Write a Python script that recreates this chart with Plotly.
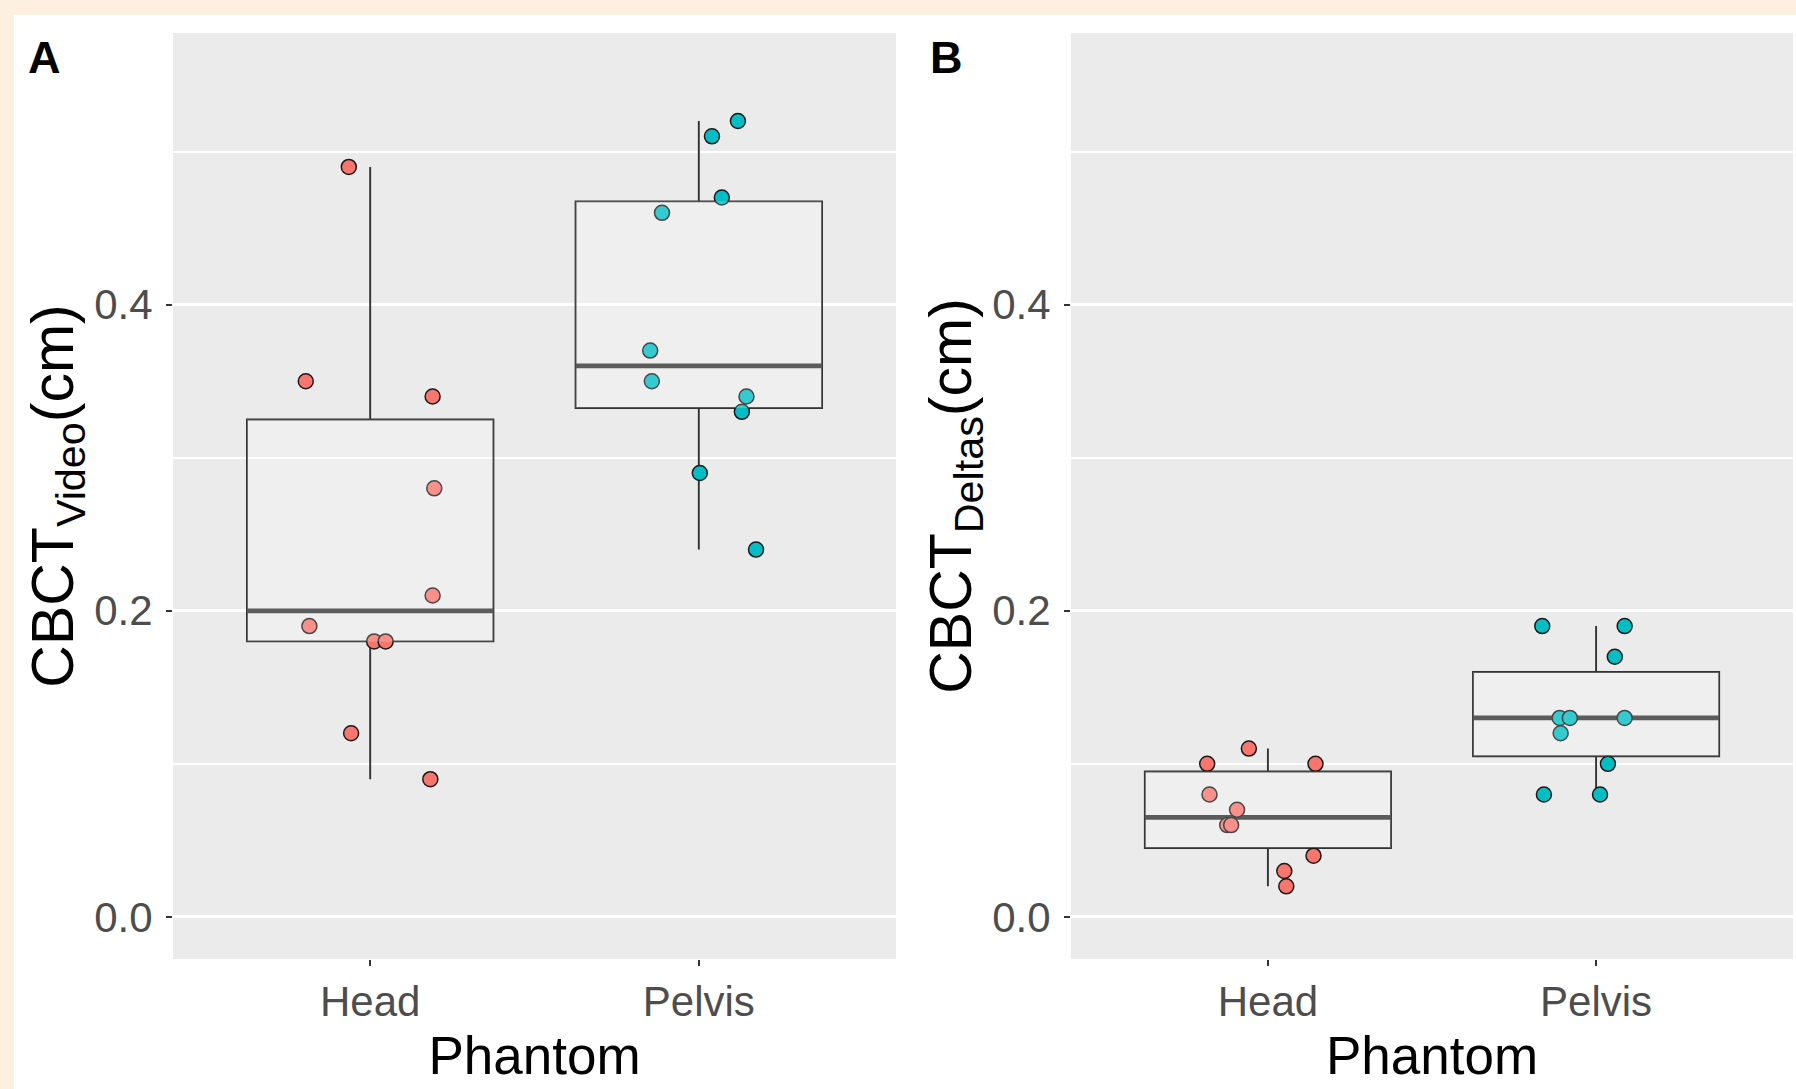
import numpy as np
import plotly.graph_objects as go

# ---------------- data ----------------
categories = ["Head", "Pelvis"]
cat_pos = [1, 2]

video_head = [0.49, 0.35, 0.34, 0.28, 0.21, 0.19, 0.18, 0.18, 0.12, 0.09]
video_head_jitter = [-0.065, -0.196, 0.190, 0.195, 0.190, -0.185, 0.012, 0.047, -0.058, 0.183]
video_pelvis = [0.52, 0.51, 0.47, 0.46, 0.37, 0.35, 0.34, 0.33, 0.29, 0.24]
video_pelvis_jitter = [0.119, 0.040, 0.070, -0.112, -0.148, -0.143, 0.145, 0.131, 0.003, 0.174]

deltas_head = [0.11, 0.10, 0.10, 0.08, 0.07, 0.06, 0.06, 0.04, 0.03, 0.02]
deltas_head_jitter = [-0.058, -0.185, 0.145, -0.178, -0.094, -0.124, -0.112, 0.139, 0.050, 0.056]
deltas_pelvis = [0.19, 0.19, 0.17, 0.13, 0.13, 0.13, 0.12, 0.10, 0.08, 0.08]
deltas_pelvis_jitter = [-0.164, 0.087, 0.057, -0.111, -0.080, 0.087, -0.108, 0.036, -0.159, 0.012]

y_tickvals = [0.0, 0.2, 0.4]
y_ticktext = ["0.0", "0.2", "0.4"]
y_minor = [0.1, 0.3, 0.5]
y_limits = [0.0, 0.55]

colors = ["#F8766D", "#00BFC4"]

# ---------------- styling ----------------
W, H = 1796, 1089
BOX_W = 0.75
LINE_C = "#333333"
TICK_FONT = dict(family="Liberation Sans, Arial, sans-serif", size=42, color="#4D4D4D")
TITLE_FONT = dict(family="Liberation Sans, Arial, sans-serif", size=53, color="black")
LABEL_FONT = dict(family="Liberation Sans, Arial, sans-serif", size=45, color="black")

pad = 0.05 * (y_limits[1] - y_limits[0])
y_range = [y_limits[0] - pad, y_limits[1] + pad]


def stats(v):
    a = np.asarray(v, dtype=float)
    q1, med, q3 = np.percentile(a, [25, 50, 75])
    iqr = q3 - q1
    lo = a[a >= q1 - 1.5 * iqr].min()
    hi = a[a <= q3 + 1.5 * iqr].max()
    return q1, med, q3, lo, hi


fig = go.Figure()
shapes = []

panels = [
    ("x", "y", [(video_head, video_head_jitter), (video_pelvis, video_pelvis_jitter)]),
    ("x2", "y2", [(deltas_head, deltas_head_jitter), (deltas_pelvis, deltas_pelvis_jitter)]),
]

for xa, ya, groups in panels:
    for i, (vals, jit) in enumerate(groups):
        pos = cat_pos[i]
        # jittered points
        fig.add_trace(go.Scatter(
            x=[pos + j for j in jit], y=vals, mode="markers",
            marker=dict(size=15, color=colors[i], line=dict(color="#1a1a1a", width=1.5)),
            xaxis=xa, yaxis=ya, showlegend=False, hoverinfo="skip"))
        q1, med, q3, lo, hi = stats(vals)
        # box outline + whiskers
        fig.add_trace(go.Box(
            x=[pos], q1=[q1], median=[med], q3=[q3], lowerfence=[lo], upperfence=[hi],
            width=BOX_W, whiskerwidth=0, boxpoints=False,
            fillcolor="rgba(0,0,0,0)", line=dict(color=LINE_C, width=1.9),
            xaxis=xa, yaxis=ya, showlegend=False, hoverinfo="skip"))
        # thicker median line
        fig.add_trace(go.Box(
            x=[pos], q1=[med], median=[med], q3=[med], lowerfence=[med], upperfence=[med],
            width=BOX_W, whiskerwidth=0, boxpoints=False,
            fillcolor="rgba(0,0,0,0)", line=dict(color=LINE_C, width=4.8),
            xaxis=xa, yaxis=ya, showlegend=False, hoverinfo="skip"))
        # translucent box fill drawn over the points (as in the original)
        shapes.append(dict(type="rect", xref=xa, yref=ya,
                           x0=pos - BOX_W / 2, x1=pos + BOX_W / 2, y0=q1, y1=q3,
                           fillcolor="rgba(255,255,255,0.2)", line=dict(width=0),
                           layer="above"))

# cream page border (top and left)
shapes.append(dict(type="rect", xref="paper", yref="paper", x0=0, x1=1,
                   y0=1 - 15 / H, y1=1, fillcolor="#FDF0E1", line=dict(width=0), layer="below"))
shapes.append(dict(type="rect", xref="paper", yref="paper", x0=0, x1=14 / W,
                   y0=0, y1=1, fillcolor="#FDF0E1", line=dict(width=0), layer="below"))

xdomA = [173 / W, 896 / W]
xdomB = [1071 / W, 1793 / W]
ydom = [1 - 959 / H, 1 - 33 / H]

common_x = dict(range=[0.4, 2.6], tickvals=cat_pos, ticktext=categories, showgrid=False,
                zeroline=False, ticks="outside", ticklen=6, tickwidth=1.5, tickcolor=LINE_C,
                tickfont=TICK_FONT, ticklabelstandoff=0,
                title=dict(text="Phantom", font=TITLE_FONT, standoff=12))
common_y = dict(range=y_range, tickvals=y_tickvals, ticktext=y_ticktext, showgrid=True,
                gridcolor="white", gridwidth=2.5, zeroline=False, ticks="outside", ticklen=6,
                tickwidth=1.5, tickcolor=LINE_C, tickfont=TICK_FONT, ticklabelstandoff=5,
                minor=dict(tickvals=y_minor, showgrid=True, gridcolor="white", gridwidth=1.6,
                           ticks=""))

fig.update_layout(
    width=W, height=H, margin=dict(l=0, r=0, t=0, b=0),
    paper_bgcolor="white", plot_bgcolor="#EBEBEB", boxmode="overlay",
    xaxis=dict(domain=xdomA, anchor="y", **common_x),
    xaxis2=dict(domain=xdomB, anchor="y2", **common_x),
    yaxis=dict(domain=ydom, anchor="x",
               title=dict(text="CBCT<sub>Video</sub>(cm)", font=dict(TITLE_FONT, size=59), standoff=1),
               **common_y),
    yaxis2=dict(domain=ydom, anchor="x2",
                title=dict(text="CBCT<sub>Deltas</sub>(cm)", font=dict(TITLE_FONT, size=59), standoff=1),
                **common_y),
    shapes=shapes,
    annotations=[
        dict(text="<b>A</b>", xref="paper", yref="paper", x=26 / W, y=1 - 30 / H,
             xanchor="left", yanchor="top", showarrow=False, font=LABEL_FONT),
        dict(text="<b>B</b>", xref="paper", yref="paper", x=928 / W, y=1 - 30 / H,
             xanchor="left", yanchor="top", showarrow=False, font=LABEL_FONT),
    ],
)

fig.write_html("out.html")
